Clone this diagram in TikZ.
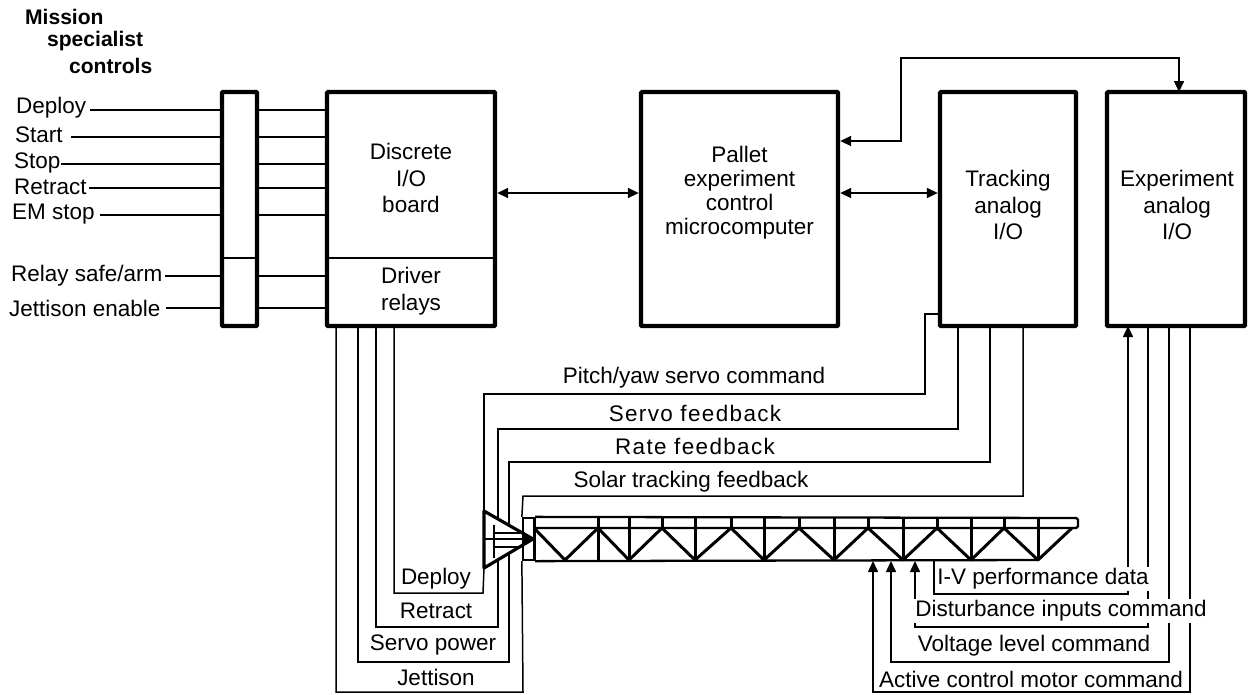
\documentclass[tikz,border=0pt]{standalone}
\usepackage{fontspec}
\setmainfont{Liberation Sans}
\usepackage{xcolor}
\usetikzlibrary{arrows.meta, positioning, calc}

\tikzset{
    unit/.style={draw, line width=2.5pt, rounded corners=0.6pt, inner sep=0pt},
    wire/.style={line width=0.85pt},
    tag/.style={font=\fontsize{12.8}{15}\selectfont, align=center, inner sep=1pt},
    ctrl/.style={tag, anchor=west},
    head/.style={tag, anchor=west, font=\fontsize{12}{15}\bfseries\selectfont},
    rung/.style={line width=1.7pt},
}

\begin{document}
\begin{tikzpicture}[x=0.02cm, y=-0.02cm, >={Triangle[length=2.2mm,width=2mm]}]
    \useasboundingbox (0,0) rectangle (1253,694);
    % Boxes
    \node[unit, minimum width=0.70cm, minimum height=4.68cm] (strip) at (239.5,209) {};
    \node[unit, minimum width=3.36cm, minimum height=4.68cm] (discrete) at (411,209) {};
    \node[unit, minimum width=3.94cm, minimum height=4.68cm] (pallet) at (739.5,209) {};
    \node[unit, minimum width=2.72cm, minimum height=4.68cm] (tracking) at (1008,209) {};
    \node[unit, minimum width=2.76cm, minimum height=4.68cm] (experiment) at (1176,209) {};
    % Divider across strip and discrete box
    \coordinate (split) at (0,258);
    \draw[wire] (split -| strip.west) -- (split -| strip.east);
    \draw[wire] (split -| discrete.west) -- (split -| discrete.east);
    % Box texts
    \node[tag] (discreteText) at (411,178) {Discrete\\I/O\\board};
    \node[tag] (driverText) at (411,291) {Driver\\relays};
    \node[tag, font=\fontsize{12.8}{13.6}\selectfont] (palletText) at (739.5,193) {Pallet\\experiment\\control\\microcomputer};
    \node[tag] (trackingText) at (1008,205) {Tracking\\analog\\I/O};
    \node[tag] (experimentText) at (1177,205) {Experiment\\analog\\I/O};
    % Mission specialist controls
    \node[head] (headA) at (23,17) {Mission};
    \node[head] (headB) at (45,41) {specialist};
    \node[head] (headC) at (67,66) {controls};
    \node[ctrl] (lblDeploy) at (14,108) {Deploy};
    \node[ctrl] (lblStart) at (13,135) {Start};
    \node[ctrl] (lblStop) at (12,163) {Stop};
    \node[ctrl] (lblRetract) at (12,187) {Retract};
    \node[ctrl] (lblEm) at (10,214) {EM stop};
    \node[ctrl] (lblRelay) at (9,276) {Relay safe/arm};
    \node[ctrl] (lblJettison) at (7,308) {Jettison enable};
    % Control lines
    \coordinate (inDeploy) at (90,110);
    \coordinate (inStart) at (71,137);
    \coordinate (inStop) at (61,164);
    \coordinate (inRetract) at (89,188);
    \coordinate (inEm) at (100,215);
    \coordinate (inRelay) at (165,276);
    \coordinate (inJettison) at (166,308);
    \draw[wire] (inDeploy) -- (inDeploy -| strip.west) (inDeploy -| strip.east) -- (inDeploy -| discrete.west);
    \draw[wire] (inStart) -- (inStart -| strip.west) (inStart -| strip.east) -- (inStart -| discrete.west);
    \draw[wire] (inStop) -- (inStop -| strip.west) (inStop -| strip.east) -- (inStop -| discrete.west);
    \draw[wire] (inRetract) -- (inRetract -| strip.west) (inRetract -| strip.east) -- (inRetract -| discrete.west);
    \draw[wire] (inEm) -- (inEm -| strip.west) (inEm -| strip.east) -- (inEm -| discrete.west);
    \draw[wire] (inRelay) -- (inRelay -| strip.west) (inRelay -| strip.east) -- (inRelay -| discrete.west);
    \draw[wire] (inJettison) -- (inJettison -| strip.west) (inJettison -| strip.east) -- (inJettison -| discrete.west);
    % Links between boxes
    \draw[wire, <->] (discrete.east) ++(0,-16) -- (pallet.west |- 0,193);
    \draw[wire, <->] (pallet.east) ++(0,-16) -- (tracking.west |- 0,193);
    \coordinate (busA) at (pallet.east |- 0,141);
    \coordinate (busB) at (1179,92);
    \draw[wire, <->] (busA) -- (901,141) -- (901,58) -- (1179,58) -- (busB);
    % Gimbal drive
    \coordinate (hubA) at (484,511);
    \coordinate (hubB) at (484,568);
    \coordinate (hubTip) at (533,539);
    \coordinate (hubC) at (498,519);
    \coordinate (hubD) at (509,525);
    \coordinate (hubE) at (498,560);
    \coordinate (hubF) at (509,554);
    \draw[line width=1.8pt, line join=round] (hubA) -- (hubTip) -- (hubB) -- cycle;
    \draw[line width=1.5pt] (494,525) -- (494,558);
    \draw[line width=1.2pt, ->] (484,539) -- (hubTip);
    \draw[line width=1.5pt] (494,533) -- (525,533) (494,547) -- (521,547);
    % Truss
    \node[draw, line width=1.3pt, minimum width=0.22cm, minimum height=0.84cm, inner sep=0pt] (mount) at (528.5,539) {};
    \draw[line width=1.3pt, rounded corners=1pt] (mount.north east) -- (1078,518) -- (1078,528) -- (534,528);
    \draw[line width=1.3pt] (mount.south east) -- (1038,560);
    \draw[rung, line join=round] (534,528) -- (565,560) -- (598,528) -- (629,560) -- (662,528) -- (695,560) -- (731,528) -- (764,560) -- (799,528) -- (834,560) -- (868,528) -- (903,560) -- (937,528) -- (971,560) -- (1004,528) -- (1038,560) -- (1072,528);
    \draw[rung] (534,518) -- (534,560) (598,518) -- (598,560) (629,518) -- (629,560) (695,518) -- (695,560) (764,518) -- (764,560) (834,518) -- (834,560) (903,518) -- (903,560) (971,518) -- (971,560) (1038,518) -- (1038,560);
    \draw[rung] (662,518) -- (662,528) (731,518) -- (731,528) (799,518) -- (799,528) (868,518) -- (868,528) (937,518) -- (937,528) (1004,518) -- (1004,528);
    % Relay outputs
    \coordinate (outDeploy) at (394,326);
    \coordinate (outRetract) at (376,326);
    \coordinate (outPower) at (358,326);
    \coordinate (outJettison) at (336,326);
    \draw[wire] (outDeploy) -- (394,593) -- (483,593) -- (hubB);
    \draw[wire] (outRetract) -- (376,627) -- (498,627) -- (hubE);
    \draw[wire] (outPower) -- (358,662) -- (509,662) -- (hubF);
    \draw[wire] (outJettison) -- (336,692) -- (523,692) -- (mount.south west);
    % Tracking feedback
    \coordinate (outServo) at (958,326);
    \coordinate (outRate) at (990,326);
    \coordinate (outSolar) at (1023,326);
    \draw[wire] (tracking.west |- 0,314) -- (925,314) -- (925,394) -- (484,394) -- (hubA);
    \draw[wire] (outServo) -- (958,429) -- (498,429) -- (hubC);
    \draw[wire] (outRate) -- (990,462) -- (509,462) -- (hubD);
    \draw[wire] (outSolar) -- (1023,496) -- (523,496) -- (mount.north west);
    % Experiment lines
    \coordinate (expData) at (1128,326);
    \coordinate (expDist) at (1148,326);
    \coordinate (expVolt) at (1169,326);
    \coordinate (expMotor) at (1190,326);
    \draw[wire, ->] (934,561) -- (934,594) -- (1128,594) -- (expData);
    \draw[wire, <-] (915,561) -- (915,627) -- (1148,627) -- (expDist);
    \draw[wire, <-] (891,561) -- (891,662) -- (1169,662) -- (expVolt);
    \draw[wire, <-] (873,561) -- (873,692) -- (1190,692) -- (expMotor);
    % Line labels
    \node[tag] (lblPitch) at (694,378) {Pitch/yaw servo command};
    \node[tag] (lblServo) at (695,413) {\addfontfeatures{LetterSpace=6}Servo feedback};
    \node[tag] (lblRate) at (695,446) {\addfontfeatures{LetterSpace=6}Rate feedback};
    \node[tag] (lblSolar) at (691,482) {Solar tracking feedback};
    \node[tag] (lblArmDeploy) at (436,579) {Deploy};
    \node[tag] (lblArmRetract) at (436,611) {Retract};
    \node[tag] (lblArmPower) at (433,645) {Servo power};
    \node[tag] (lblArmJettison) at (436,677) {Jettison};
    \node[tag, fill=white] (lblData) at (1043,579) {I-V performance data};
    \node[tag, fill=white] (lblDist) at (1061,611) {Disturbance inputs command};
    \node[tag, fill=white] (lblVolt) at (1034,646) {Voltage level command};
    \node[tag, fill=white] (lblMotor) at (1031,679) {Active control motor command};
\end{tikzpicture}
\end{document}
